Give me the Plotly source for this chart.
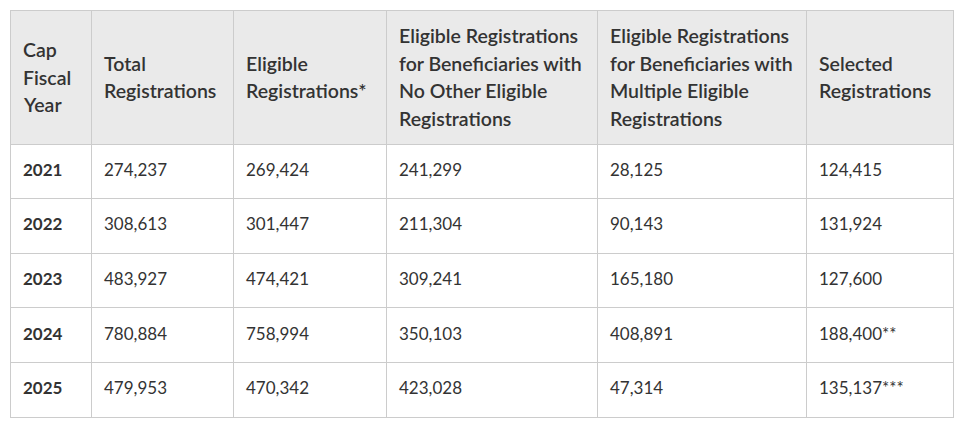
import plotly.graph_objects as go

# column headers, one list of lines per column
headers = [
    ["Cap", "Fiscal", "Year"],
    ["Total", "Registrations"],
    ["Eligible", "Registrations*"],
    ["Eligible Registrations", "for Beneficiaries with", "No Other Eligible", "Registrations"],
    ["Eligible Registrations", "for Beneficiaries with", "Multiple Eligible", "Registrations"],
    ["Selected", "Registrations"],
]

years = ["2021", "2022", "2023", "2024", "2025"]
total_reg = ["274,237", "308,613", "483,927", "780,884", "479,953"]
eligible_reg = ["269,424", "301,447", "474,421", "758,994", "470,342"]
eligible_single = ["241,299", "211,304", "309,241", "350,103", "423,028"]
eligible_multi = ["28,125", "90,143", "165,180", "408,891", "47,314"]
selected_reg = ["124,415", "131,924", "127,600", "188,400**", "135,137***"]

columns = [years, total_reg, eligible_reg, eligible_single, eligible_multi, selected_reg]
col_widths = [81, 142, 153, 211, 209, 147]

# page / table geometry (pixels); the page body adds an 8px margin, so
# everything is laid out 8px up/left of where it lands on screen
W, H = 970, 429
PAGE_OFF = 8
X0, Y0 = 10 - PAGE_OFF, 10 - PAGE_OFF   # top-left corner of the table
HEAD_H, ROW_H = 134, 54.6
LINE_H = 27.8              # header line spacing
PAD = 11                   # left text inset
BORDER = "#cccccc"
TEXT = "#333333"
FONT = "Lato"

tw = sum(col_widths)
th = HEAD_H + ROW_H * len(years)

fig = go.Figure(go.Table(
    domain=dict(x=[X0 / W, (X0 + tw) / W],
                y=[1 - (Y0 + th + 1) / H, 1 - Y0 / H]),
    columnwidth=col_widths,
    header=dict(values=[""] * len(columns), fill_color="#eaeaea",
                line=dict(color=BORDER, width=1), height=HEAD_H),
    cells=dict(values=[[""] * len(years) for _ in columns], fill_color="white",
               line=dict(color=BORDER, width=1), height=ROW_H),
))

# cell text: left aligned, vertically centred in each cell
lefts = [X0 + sum(col_widths[:i]) for i in range(len(col_widths))]
anns = []
head_mid = Y0 + HEAD_H / 2
for left, lines in zip(lefts, headers):
    n = len(lines)
    for i, line in enumerate(lines):
        y = head_mid + (i - (n - 1) / 2) * LINE_H
        anns.append(dict(x=(left + PAD) / W, y=1 - y / H, text=line,
                         font=dict(family=FONT, size=19.5, color=TEXT, weight=600)))
for ci, (left, vals) in enumerate(zip(lefts, columns)):
    for ri, v in enumerate(vals):
        y = Y0 + HEAD_H + ROW_H * (ri + 0.5) - 2
        anns.append(dict(x=(left + PAD) / W, y=1 - y / H, text=v,
                         font=dict(family=FONT, size=17, color=TEXT,
                                   weight=700 if ci == 0 else 400)))
for a in anns:
    a.update(xref="paper", yref="paper", xanchor="left", yanchor="middle",
             showarrow=False, align="left")

fig.update_layout(
    width=W, height=H,
    margin=dict(l=0, r=0, t=0, b=0),
    paper_bgcolor="white",
    annotations=anns,
)

fig.write_html("out.html")
